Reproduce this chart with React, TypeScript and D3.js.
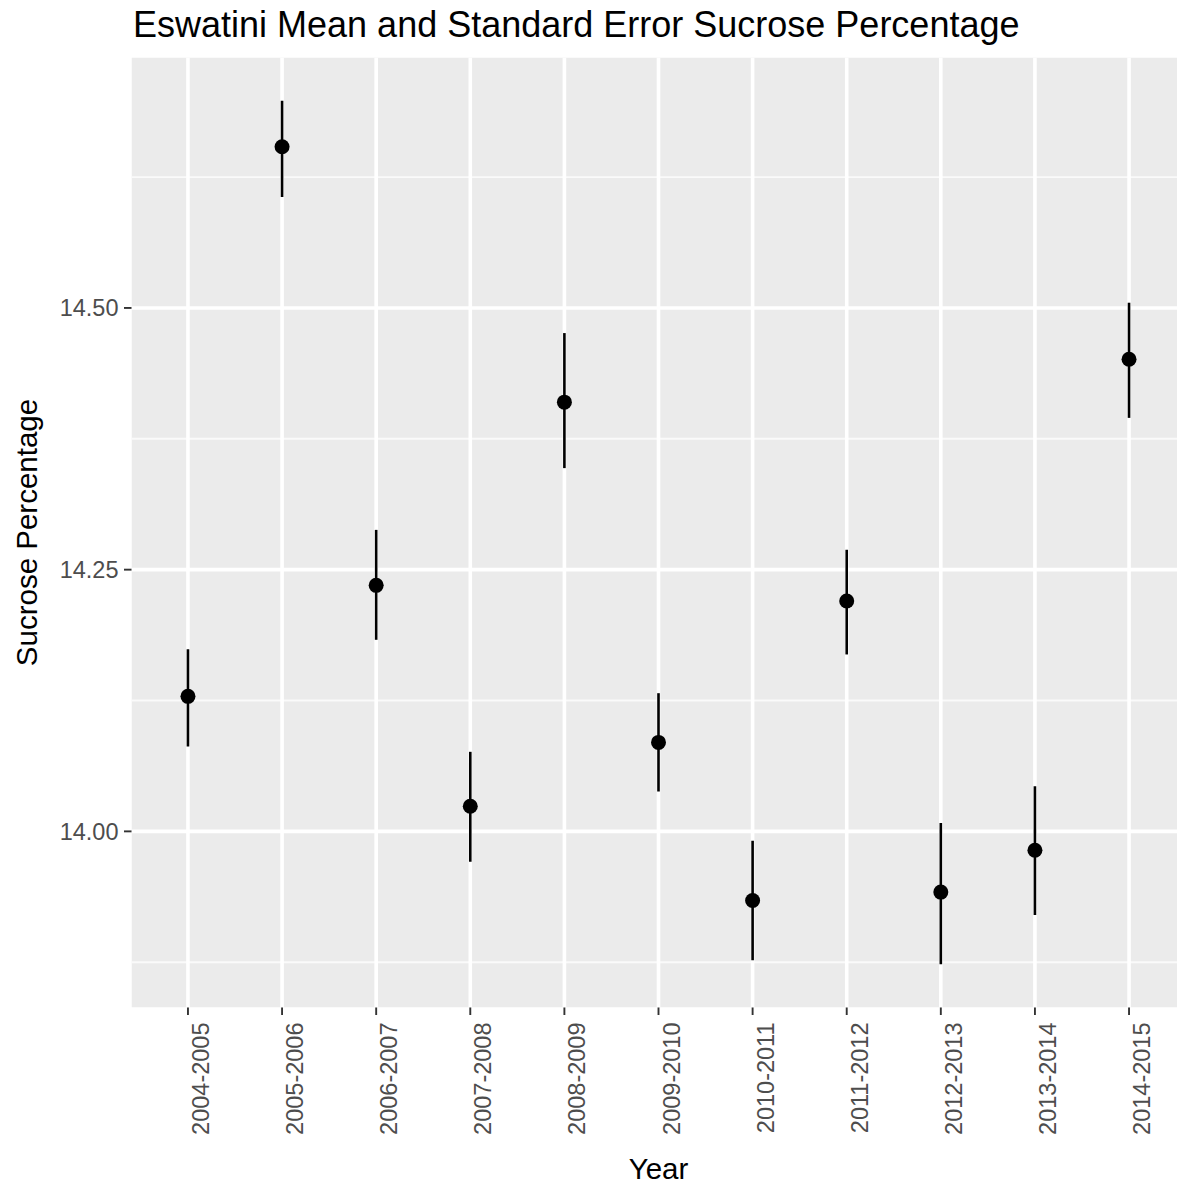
import React from "react";
import * as d3 from "d3";

const years = ["2004-2005","2005-2006","2006-2007","2007-2008","2008-2009","2009-2010","2010-2011","2011-2012","2012-2013","2013-2014","2014-2015"];
const means = [14.129, 14.654, 14.235, 14.024, 14.410, 14.085, 13.934, 14.220, 13.942, 13.982, 14.451];
const upper = [14.174, 14.698, 14.288, 14.076, 14.476, 14.132, 13.991, 14.269, 14.008, 14.043, 14.505];
const lower = [14.081, 14.606, 14.183, 13.971, 14.347, 14.038, 13.877, 14.169, 13.873, 13.920, 14.395];
const yTicks = [14.0, 14.25, 14.5];
const yMinor = [13.875, 14.125, 14.375, 14.625];

const W = 1177, H = 1191;
const PL = 131.5, PR = 1185.5, PT = 57.5, PB = 1007.5;
const FONT = "'Liberation Sans', Arial, sans-serif";

export default function App() {
  const lo = d3.min(lower) as number;
  const hi = d3.max(upper) as number;
  const r = hi - lo;
  const y = d3.scaleLinear().domain([lo - 0.05 * r, hi + 0.05 * r]).range([PB, PT]);
  const x = d3.scalePoint<string>().domain(years).range([PL, PR]).padding(0.6);

  return (
    <div style={{ position: "absolute", left: 0, top: 0 }}>
      <svg width={W} height={H} style={{ display: "block", background: "#fff" }} fontFamily={FONT}>
        <defs>
          <clipPath id="clip"><rect x={PL} y={PT} width={W - PL} height={PB - PT} /></clipPath>
        </defs>
        <g clipPath="url(#clip)">
          <rect x={PL} y={PT} width={PR - PL} height={PB - PT} fill="#EBEBEB" />
          {yMinor.map((v) => (
            <line key={"mn" + v} x1={PL} x2={PR} y1={y(v)} y2={y(v)} stroke="#FAFAFA" strokeWidth={1.9} />
          ))}
          {yTicks.map((v) => (
            <line key={"mj" + v} x1={PL} x2={PR} y1={y(v)} y2={y(v)} stroke="#FFFFFF" strokeWidth={3.6} />
          ))}
          {years.map((yr) => (
            <line key={"vx" + yr} x1={x(yr)} x2={x(yr)} y1={PT} y2={PB} stroke="#FFFFFF" strokeWidth={3.6} />
          ))}
          {years.map((yr, i) => (
            <g key={"pt" + yr}>
              <line x1={x(yr)} x2={x(yr)} y1={y(lower[i])} y2={y(upper[i])} stroke="#000" strokeWidth={2.6} />
              <circle cx={x(yr)} cy={y(means[i])} r={7.5} fill="#000" />
            </g>
          ))}
        </g>
        {yTicks.map((v) => (
          <g key={"yt" + v}>
            <line x1={PL - 7.5} x2={PL} y1={y(v)} y2={y(v)} stroke="#333333" strokeWidth={1.9} />
            <text x={PL - 13} y={y(v)} dy="0.35em" textAnchor="end" fontSize={23.5} fill="#4D4D4D">{v.toFixed(2)}</text>
          </g>
        ))}
        {years.map((yr) => (
          <g key={"xt" + yr}>
            <line x1={x(yr)} x2={x(yr)} y1={PB} y2={PB + 7.5} stroke="#333333" strokeWidth={1.9} />
            <text transform={`translate(${(x(yr) as number) + 21},${PB + 15}) rotate(-90)`} textAnchor="end" fontSize={23.5} fill="#4D4D4D">{yr}</text>
          </g>
        ))}
        <text x={(PL + PR) / 2} y={1179} textAnchor="middle" fontSize={29.5} fill="#000">Year</text>
        <text transform={`translate(37,${(PT + PB) / 2}) rotate(-90)`} textAnchor="middle" fontSize={29.5} fill="#000">Sucrose Percentage</text>
        <text x={133} y={37} fontSize={36} fill="#000">Eswatini Mean and Standard Error Sucrose Percentage</text>
      </svg>
    </div>
  );
}
